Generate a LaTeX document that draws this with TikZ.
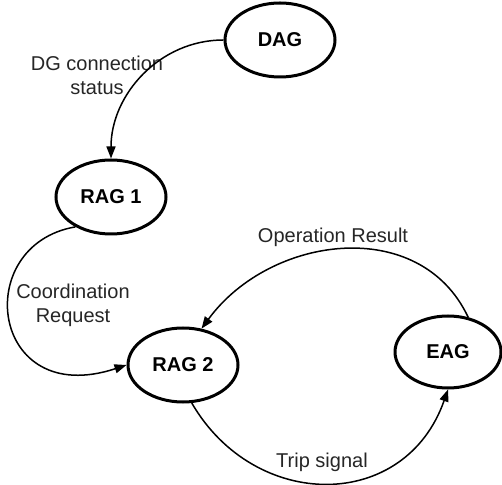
\documentclass[tikz,border=0pt]{standalone}
\usepackage{fontspec}
\setmainfont{Liberation Sans}
\usetikzlibrary{shapes.geometric,arrows.meta}

\tikzset{
  agent/.style={ellipse, draw=black, line width=1.5pt, inner sep=0pt,
    minimum width=55pt, minimum height=37pt, font=\bfseries\fontsize{10}{12}\selectfont},
  msg/.style={align=center, text=black!85, inner sep=0pt,
    font=\fontsize{10}{12}\selectfont},
  flow/.style={line width=0.75pt, -{Triangle[length=6pt,width=4.5pt]}}
}

\begin{document}
\begin{tikzpicture}[x=0.5pt, y=-0.5pt]
  \useasboundingbox (0,0) rectangle (502,485);

  % agents
  \node[agent] (dag)  at (280,40)  {DAG};
  \node[agent] (rag1) at (111,197) {RAG 1};
  \node[agent] (rag2) at (183,365) {RAG 2};
  \node[agent, minimum width=53pt, minimum height=36pt] (eag) at (448,352) {EAG};

  % messages
  \node[msg] (lconn)  at (97,75)   {DG connection\\status};
  \node[msg] (lcoord) at (73,305)  {Coordination\\Request};
  \node[msg] (lres)   at (333,237) {Operation Result};
  \node[msg] (ltrip)  at (322,462) {Trip signal};

  % message flows
  \draw[flow] (dag.west) to[out=180, in=90] (rag1.north);
  \draw[flow] (rag1.220) .. controls (-30,245) and (-10,410) .. (rag2.west);
  \draw[flow] (eag.60) .. controls (420,215) and (270,235) .. (rag2.63);
  \draw[flow] (rag2.283) .. controls (255,512) and (405,512) .. (eag.south);
\end{tikzpicture}
\end{document}
